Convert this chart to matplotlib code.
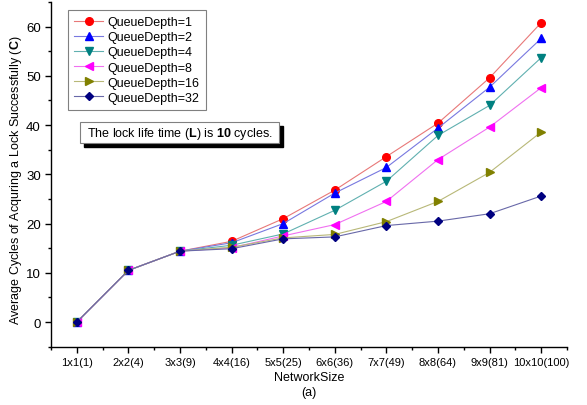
import matplotlib
matplotlib.use("Agg")
import matplotlib.pyplot as plt
from matplotlib.ticker import MultipleLocator
from matplotlib.patches import Rectangle
import matplotlib.transforms as mtransforms

plt.rcParams['font.family'] = ['Liberation Sans', 'DejaVu Sans']
plt.rcParams['mathtext.fontset'] = 'custom'
plt.rcParams['mathtext.rm'] = 'Liberation Sans'
plt.rcParams['mathtext.bf'] = 'Liberation Sans:bold'

categories = ["1x1(1)", "2x2(4)", "3x3(9)", "4x4(16)", "5x5(25)", "6x6(36)",
              "7x7(49)", "8x8(64)", "9x9(81)", "10x10(100)"]

qd1 = [0, 10.5, 14.4, 16.4, 21.0, 26.8, 33.6, 40.4, 49.6, 60.8]
qd2 = [0, 10.5, 14.4, 16.1, 20.0, 26.2, 31.4, 39.4, 47.7, 57.6]
qd4 = [0, 10.5, 14.4, 15.6, 17.9, 22.7, 28.6, 37.9, 44.0, 53.7]
qd8 = [0, 10.5, 14.4, 15.1, 17.5, 19.8, 24.5, 33.0, 39.6, 47.6]
qd16 = [0, 10.5, 14.4, 15.2, 17.1, 17.8, 20.4, 24.5, 30.4, 38.6]
qd32 = [0, 10.5, 14.4, 14.9, 16.9, 17.3, 19.6, 20.5, 22.0, 25.6]

labels = ["QueueDepth=1", "QueueDepth=2", "QueueDepth=4", "QueueDepth=8",
          "QueueDepth=16", "QueueDepth=32"]
series = [qd1, qd2, qd4, qd8, qd16, qd32]
markers = ['o', '^', 'v', '<', '>', 'D']
mcolors = ['#ff0000', '#0000ff', '#008080', '#ff00ff', '#808000', '#000080']
lcolors = ['#e87878', '#7878e0', '#60b0b0', '#f070f0', '#b8b878', '#6868a8']
msizes = [5.5, 6.3, 6.3, 6.3, 6.3, 4.4]

fig = plt.figure(figsize=(5.87, 4.06), dpi=100)
ax = fig.add_axes([0.0869, 0.1436, 0.879, 0.849])

x = list(range(1, len(categories) + 1))
for s, lab, m, mc, lc, ms in zip(series, labels, markers, mcolors, lcolors, msizes):
    ax.plot(x, s, color=lc, lw=0.8, marker=m, markersize=ms,
            markerfacecolor=mc, markeredgecolor=mc, label=lab)

ax.set_xlim(0.5, 10.5)
ax.set_ylim(-5, 65)
ax.set_xticks(x)
ax.set_xticklabels(categories, fontsize=8)
ax.set_xticks([i + 0.5 for i in range(0, 11)], minor=True)
ax.set_yticks([0, 10, 20, 30, 40, 50, 60])
ax.yaxis.set_minor_locator(MultipleLocator(5))
ax.tick_params(axis='y', labelsize=9.5)
ax.tick_params(which='major', direction='out', length=4.3, width=1, pad=3)
ax.tick_params(which='minor', direction='out', length=2.5, width=1)
for sp in ['top', 'right']:
    ax.spines[sp].set_visible(False)
for sp in ['left', 'bottom']:
    ax.spines[sp].set_linewidth(1)

ax.set_xlabel("NetworkSize\n(a)", fontsize=9, labelpad=3, linespacing=1.3)
ax.set_ylabel(r"Average Cycles of Acquring a Lock Successfully ($\mathbf{C}$)",
              fontsize=9, labelpad=1.5)
ax.yaxis.label.set_y(0.4865)

leg = ax.legend(loc='upper left', bbox_to_anchor=(0.033, 0.977), borderaxespad=0,
                fontsize=9, fancybox=False, edgecolor='#808080', framealpha=1,
                handlelength=2.3, handletextpad=0.35, labelspacing=0.25,
                borderpad=0.5)
leg.get_frame().set_linewidth(0.8)

txt = r"The lock life time ($\mathbf{L}$) is $\mathbf{10}$ cycles."
t = ax.text(0.0693, 0.62, txt, transform=ax.transAxes, fontsize=9, color='black',
            ha='left', va='center', zorder=6)

fig.canvas.draw()
bb = t.get_window_extent()
px, py = 7, 2.5
x0, y0 = bb.x0 - px, bb.y0 - py
w, h = bb.width + 2 * px, bb.height + 2 * py
ident = mtransforms.IdentityTransform()
shadow = Rectangle((x0 + 4, y0 - 4), w, h, transform=ident, facecolor='black',
                   edgecolor='black', zorder=4)
box = Rectangle((x0, y0), w, h, transform=ident, facecolor='white',
                edgecolor='#808080', linewidth=0.8, zorder=5)
ax.add_patch(shadow)
ax.add_patch(box)

fig.savefig("out.png", dpi=100)
